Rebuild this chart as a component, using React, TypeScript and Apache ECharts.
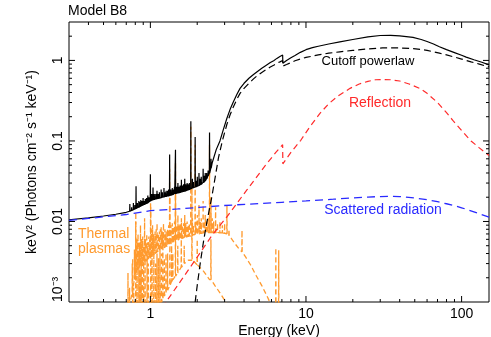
import React, { useEffect, useRef } from 'react';
import * as echarts from 'echarts';

const FONT = '"Liberation Sans", Arial, Helvetica, sans-serif';

// Axis ranges and tick labels
const X_MIN = 0.3;
const X_MAX = 150;
const Y_MIN = 0.001;
const Y_MAX = 3;
const xLabelValues = [1, 10, 100];
const xLabelTexts = ['1', '10', '100'];
const yLabelValues = [0.001, 0.01, 0.1, 1];
const yLabelTexts = ['10⁻³', '0.01', '0.1', '1'];

// Points: [energy keV, keV^2 photons cm^-2 s^-1 keV^-1]
// Lines: [energy keV, continuum level, line peak]
const totalContinuum: number[][] = [
  [0.3, 0.0105], [0.4, 0.0111], [0.5, 0.0117], [0.6, 0.0123], [0.7, 0.013],
  [2.5, 0.054], [2.65, 0.078], [2.8, 0.1], [2.95, 0.14], [3.1, 0.19], [3.25, 0.245], [3.4, 0.3],
  [3.6, 0.38], [3.77, 0.45], [4.0, 0.52], [4.3, 0.6], [4.6, 0.67], [4.83, 0.72], [5.2, 0.8],
  [5.5, 0.86], [5.9, 0.94], [6.2, 0.99], [6.5, 1.06], [6.8, 1.12], [7.08, 1.17], [7.1, 0.92],
  [7.5, 1.0], [8, 1.08], [8.5, 1.15], [9.2, 1.26], [10, 1.36], [11, 1.44], [12, 1.5], [14, 1.6],
  [16.5, 1.7], [20, 1.82], [25, 1.96], [30, 2.04], [35, 2.05], [40, 2.02], [48.7, 1.93],
  [55, 1.82], [60, 1.72], [66, 1.6], [72, 1.48], [80, 1.36], [90, 1.25], [100, 1.16],
  [107, 1.1], [120, 1.02], [135, 0.95], [150, 0.88],
];
const totalLines: number[][] = [
  [0.738, 0.0134, 0.0165], [0.758, 0.0137, 0.015], [0.778, 0.014, 0.017], [0.795, 0.0143, 0.016],
  [0.809, 0.0145, 0.0273], [0.825, 0.0148, 0.017], [0.843, 0.015, 0.018], [0.855, 0.0153, 0.0175],
  [0.868, 0.0155, 0.0185], [0.883, 0.0158, 0.018], [0.898, 0.016, 0.0195], [0.912, 0.0162, 0.018],
  [0.928, 0.0165, 0.019], [0.945, 0.0168, 0.0195], [0.963, 0.017, 0.021], [0.98, 0.0175, 0.02],
  [1.0, 0.018, 0.0385], [1.02, 0.0183, 0.022], [1.04, 0.0186, 0.0265], [1.06, 0.0188, 0.022],
  [1.083, 0.019, 0.022], [1.103, 0.0192, 0.024], [1.123, 0.0194, 0.022], [1.143, 0.0195, 0.023],
  [1.173, 0.0198, 0.025], [1.195, 0.02, 0.023], [1.223, 0.0202, 0.026], [1.243, 0.0204, 0.023],
  [1.263, 0.0205, 0.024], [1.29, 0.0207, 0.024], [1.31, 0.0208, 0.025], [1.33, 0.021, 0.068],
  [1.355, 0.0212, 0.025], [1.383, 0.0215, 0.026], [1.41, 0.0217, 0.025], [1.43, 0.0219, 0.027],
  [1.45, 0.022, 0.078], [1.475, 0.0224, 0.027], [1.503, 0.0226, 0.03], [1.53, 0.0228, 0.027],
  [1.553, 0.023, 0.028], [1.583, 0.0233, 0.033], [1.61, 0.0235, 0.028], [1.635, 0.0237, 0.029],
  [1.663, 0.0238, 0.034], [1.69, 0.024, 0.029], [1.723, 0.0244, 0.03], [1.75, 0.0247, 0.029],
  [1.78, 0.025, 0.03], [1.82, 0.0255, 0.176], [1.863, 0.026, 0.034], [1.89, 0.0263, 0.031],
  [1.94, 0.0268, 0.112], [1.97, 0.027, 0.032], [2.003, 0.0275, 0.036], [2.053, 0.028, 0.04],
  [2.09, 0.0287, 0.034], [2.123, 0.029, 0.036], [2.183, 0.0305, 0.045], [2.22, 0.031, 0.037],
  [2.253, 0.032, 0.04], [2.3, 0.034, 0.04], [2.35, 0.037, 0.043], [2.4, 0.04, 0.127],
  [2.453, 0.046, 0.06],
];

const cutoffPowerlaw: number[][] = [
  [1.94, 0.001], [2.0, 0.0016], [2.09, 0.003], [2.2, 0.0058], [2.3, 0.0095], [2.4, 0.0145],
  [2.48, 0.02], [2.6, 0.034], [2.74, 0.062], [2.9, 0.1], [3.1, 0.16], [3.25, 0.21], [3.4, 0.26],
  [3.6, 0.33], [3.77, 0.39], [4.0, 0.45], [4.3, 0.52], [4.6, 0.59], [4.83, 0.64], [5.2, 0.71],
  [5.5, 0.76], [5.9, 0.83], [6.2, 0.87], [6.5, 0.92], [6.8, 0.96], [7.08, 1.0], [7.1, 0.85],
  [7.5, 0.89], [8, 0.94], [8.5, 0.99], [9.2, 1.04], [10, 1.09], [11, 1.13], [12, 1.17],
  [14, 1.23], [16.5, 1.28], [20, 1.33], [25, 1.39], [31, 1.43], [40, 1.43], [49, 1.4],
  [55, 1.37], [60, 1.33], [66, 1.28], [72, 1.23], [80, 1.17], [90, 1.1], [100, 1.04],
  [115, 0.96], [130, 0.9], [150, 0.83],
];

const reflection: number[][] = [
  [1.2, 0.00085], [1.26, 0.001], [1.56, 0.0018], [2.0, 0.0036], [2.5, 0.0068], [3.1, 0.0114],
  [4.16, 0.0245], [5.5, 0.05], [6.4, 0.072], [7.08, 0.09], [7.1, 0.052], [8.0, 0.072],
  [9.26, 0.102], [10.6, 0.15], [12.3, 0.22], [14, 0.29], [16, 0.36], [19.2, 0.45], [22, 0.51],
  [25, 0.55], [28, 0.575], [31, 0.58], [35, 0.575], [40, 0.555], [46, 0.51], [53.8, 0.45],
  [60, 0.39], [70, 0.3], [80, 0.225], [87.8, 0.18], [100, 0.135], [115, 0.1], [130, 0.082],
  [150, 0.066],
];

const scattered: number[][] = [
  [0.3, 0.0103], [0.4, 0.0109], [0.5, 0.0114], [0.7, 0.0122], [1, 0.0136], [1.5, 0.0143],
  [2, 0.0149], [3, 0.0158], [5, 0.0167], [7, 0.0173], [10, 0.018], [15, 0.0189], [20, 0.0196],
  [25, 0.0201], [30, 0.0204], [35, 0.0205], [40, 0.0204], [50, 0.0196], [60, 0.0186],
  [70, 0.0176], [80, 0.0166], [90, 0.0157], [100, 0.0148], [120, 0.0132], [150, 0.0113],
];

const hotContinuum: number[][] = [
  [0.62, 0.0006], [0.7, 0.0009], [0.75, 0.0011], [3.3, 0.0062], [3.5, 0.0053], [3.7, 0.0046],
  [4.1, 0.0036], [4.4, 0.0029], [4.8, 0.0021], [5.2, 0.0016], [5.6, 0.0012], [6.0, 0.0009],
  [7.5, 0.0004],
];
const hotLines: number[][] = [
  [0.765, 0.0013, 0.003], [0.79, 0.0019, 0.0045], [0.806, 0.0023, 0.013], [0.82, 0.0025, 0.006],
  [0.833, 0.0026, 0.007], [0.85, 0.0027, 0.0055], [0.864, 0.0028, 0.009], [0.878, 0.0029, 0.006],
  [0.893, 0.003, 0.0065], [0.905, 0.0031, 0.005], [0.918, 0.0032, 0.011], [0.932, 0.0032, 0.006],
  [0.948, 0.0033, 0.007], [0.962, 0.0034, 0.0055], [0.978, 0.0035, 0.0065], [0.99, 0.0035, 0.006],
  [1.003, 0.0036, 0.022], [1.018, 0.0037, 0.008], [1.033, 0.0038, 0.009], [1.05, 0.0039, 0.007],
  [1.073, 0.004, 0.0075], [1.09, 0.0041, 0.008], [1.104, 0.0042, 0.0095], [1.125, 0.0043, 0.007],
  [1.143, 0.0044, 0.0075], [1.16, 0.0045, 0.008], [1.173, 0.0046, 0.0085], [1.195, 0.0046, 0.0075],
  [1.214, 0.0047, 0.0095], [1.24, 0.0048, 0.008], [1.263, 0.0049, 0.0075], [1.29, 0.005, 0.008],
  [1.31, 0.0051, 0.009], [1.33, 0.0052, 0.045], [1.355, 0.0053, 0.009], [1.383, 0.0054, 0.0095],
  [1.41, 0.0055, 0.0085], [1.43, 0.0056, 0.01], [1.45, 0.0057, 0.055], [1.475, 0.0058, 0.009],
  [1.503, 0.0059, 0.012], [1.53, 0.006, 0.009], [1.553, 0.006, 0.0095], [1.583, 0.0061, 0.011],
  [1.61, 0.0062, 0.009], [1.635, 0.0063, 0.0095], [1.663, 0.0064, 0.012], [1.69, 0.0064, 0.0095],
  [1.723, 0.0065, 0.01], [1.75, 0.0065, 0.009], [1.78, 0.0066, 0.0095], [1.82, 0.0066, 0.15],
  [1.863, 0.0067, 0.011], [1.89, 0.0068, 0.009], [1.94, 0.0069, 0.09], [1.97, 0.0069, 0.01],
  [2.003, 0.007, 0.012], [2.053, 0.007, 0.016], [2.09, 0.0071, 0.01], [2.123, 0.0071, 0.011],
  [2.183, 0.0072, 0.018], [2.22, 0.0072, 0.01], [2.253, 0.0072, 0.012], [2.3, 0.0073, 0.01],
  [2.35, 0.0073, 0.011], [2.4, 0.0073, 0.09], [2.453, 0.0073, 0.02], [2.5, 0.0073, 0.011],
  [2.55, 0.0073, 0.01], [2.625, 0.0073, 0.015], [2.7, 0.0073, 0.0095], [2.8, 0.0072, 0.01],
  [2.9, 0.0072, 0.009], [3.0, 0.0071, 0.0095], [3.105, 0.007, 0.016], [3.2, 0.0066, 0.008],
  [3.88, 0.0042, 0.0078], [6.4, 0.0007, 0.0047], [6.68, 0.0006, 0.0044],
];

const coolContinuum: number[][] = [
  [0.68, 0.0003], [0.7, 0.00035], [1.75, 0.0033], [1.8, 0.0033], [1.9, 0.0032], [2.2, 0.0024],
  [2.4, 0.0019], [2.6, 0.0016], [2.8, 0.0013], [3.0, 0.00105], [3.1, 0.0009], [3.3, 0.0007],
];
const coolLines: number[][] = [
  [0.718, 0.0004, 0.0023], [0.735, 0.0004, 0.0015], [0.77, 0.0005, 0.0035], [0.782, 0.0005, 0.0015],
  [0.805, 0.0005, 0.01], [0.822, 0.0005, 0.003], [0.843, 0.0005, 0.004], [0.858, 0.0006, 0.0025],
  [0.873, 0.0006, 0.006], [0.89, 0.0006, 0.003], [0.905, 0.0006, 0.004], [0.925, 0.0006, 0.0035],
  [0.953, 0.0006, 0.005], [0.97, 0.0007, 0.003], [1.005, 0.0007, 0.015], [1.025, 0.0008, 0.004],
  [1.053, 0.0008, 0.006], [1.08, 0.0008, 0.003], [1.103, 0.0009, 0.004], [1.128, 0.0009, 0.0035],
  [1.153, 0.001, 0.005], [1.18, 0.001, 0.004], [1.203, 0.0011, 0.006], [1.23, 0.0012, 0.0035],
  [1.26, 0.0013, 0.004], [1.29, 0.0014, 0.004], [1.335, 0.0016, 0.02], [1.37, 0.0018, 0.005],
  [1.395, 0.0019, 0.004], [1.45, 0.0021, 0.025], [1.5, 0.0023, 0.005], [1.58, 0.0027, 0.006],
  [1.65, 0.003, 0.005], [1.85, 0.0033, 0.03], [2.0, 0.0029, 0.006], [2.45, 0.0019, 0.006],
];

// Build a line-series table: continuum points plus a narrow profile per emission line
function withLines(cont: number[][], lines: number[][]): number[][] {
  const w = 0.0025;
  const pts = cont.map((p) => [p[0], p[1]]);
  lines.forEach(([e, b, p]) => {
    pts.push([e * (1 - w), b], [e, p], [e * (1 + w), b]);
  });
  return pts.sort((a, b) => a[0] - b[0]);
}

function logTicks(min: number, max: number): number[][] {
  const out: number[][] = [];
  for (let p = -4; p <= 3; p++) {
    for (let m = 1; m <= 9; m++) {
      const v = m * Math.pow(10, p);
      if (v > min * 1.0001 && v < max * 0.9999) out.push([v, m === 1 ? 1 : 0]);
    }
  }
  return out;
}

function labelFor(values: number[], texts: string[], v: number): string {
  for (let i = 0; i < values.length; i++) {
    if (Math.abs(values[i] - v) / values[i] < 1e-6) return texts[i];
  }
  return '';
}

export default function App() {
  const ref = useRef<HTMLDivElement>(null);

  useEffect(() => {
    if (!ref.current) return;
    const chart = echarts.init(ref.current, undefined, { renderer: 'svg' });
    const xTicks = logTicks(X_MIN, X_MAX).map(([v, maj]) => [v, 1, maj]);
    const yTicks = logTicks(Y_MIN, Y_MAX).map(([v, maj]) => [1, v, maj]);
    const tickStyle = { stroke: '#000', lineWidth: 1 };

    const lineSeries = (name: string, data: number[][], color: string, type: any, width: number, z: number) => ({
      type: 'line',
      name,
      data,
      showSymbol: false,
      symbol: 'none',
      clip: true,
      z,
      lineStyle: { color, width, type },
      emphasis: { disabled: true },
    });

    chart.setOption({
      animation: false,
      title: {
        text: 'Model B8',
        left: 68,
        top: 3,
        padding: 0,
        textStyle: { fontSize: 14, fontWeight: 'normal', fontFamily: FONT, color: '#000' },
      },
      grid: {
        left: 69,
        top: 22,
        right: 2,
        bottom: 35,
        show: true,
        borderColor: '#000',
        borderWidth: 1,
        backgroundColor: 'transparent',
        containLabel: false,
        outerBoundsMode: 'none',
      },
      xAxis: {
        type: 'log',
        logBase: 10,
        min: X_MIN,
        max: X_MAX,
        axisLine: { show: false },
        axisTick: { show: false },
        splitLine: { show: false },
        axisLabel: {
          margin: 4,
          fontSize: 14,
          fontFamily: FONT,
          color: '#000',
          formatter: (v: number) => labelFor(xLabelValues, xLabelTexts, v),
        },
        name: 'Energy (keV)',
        nameLocation: 'middle',
        nameGap: 21,
        nameMoveOverlap: false,
        nameTextStyle: { fontSize: 14, fontFamily: FONT, color: '#000', lineHeight: 14 },
      },
      yAxis: {
        type: 'log',
        logBase: 10,
        min: Y_MIN,
        max: Y_MAX,
        axisLine: { show: false },
        axisTick: { show: false },
        splitLine: { show: false },
        axisLabel: {
          rotate: 90,
          margin: 5,
          fontSize: 14,
          fontFamily: FONT,
          color: '#000',
          alignMinLabel: 'left',
          formatter: (v: number) => labelFor(yLabelValues, yLabelTexts, v),
        },
        name: 'keV² (Photons cm⁻² s⁻¹ keV⁻¹)',
        nameLocation: 'middle',
        nameGap: 31,
        nameMoveOverlap: false,
        nameTextStyle: { fontSize: 14, fontFamily: FONT, color: '#000', lineHeight: 14 },
      },
      series: [
        lineSeries('Thermal plasma (cool)', withLines(coolContinuum, coolLines), '#ff9a2e', [5, 3], 1.3, 1),
        lineSeries('Thermal plasma (hot)', withLines(hotContinuum, hotLines), '#ff9a2e', [5, 3], 1.3, 1),
        lineSeries('Reflection', reflection, '#ff2a2a', [6, 4], 1.2, 2),
        lineSeries('Cutoff powerlaw', cutoffPowerlaw, '#000000', [7, 4], 1.2, 3),
        lineSeries('Total', withLines(totalContinuum, totalLines), '#000000', 'solid', 1.2, 4),
        lineSeries('Scattered radiation', scattered, '#2a2aff', [8, 5], 1.3, 5),
        {
          type: 'custom',
          name: 'xticks',
          data: xTicks,
          encode: { x: 0, y: 1 },
          silent: true,
          clip: false,
          z: 10,
          renderItem: (params: any, api: any) => {
            const cs = params.coordSys;
            const v = api.value(0);
            const maj = api.value(2);
            const px = api.coord([v, 1])[0];
            const len = maj ? 6 : 3;
            const bottom = cs.y + cs.height;
            return {
              type: 'group',
              children: [
                { type: 'line', shape: { x1: px, y1: bottom, x2: px, y2: bottom - len }, style: tickStyle },
                { type: 'line', shape: { x1: px, y1: cs.y, x2: px, y2: cs.y + len }, style: tickStyle },
              ],
            };
          },
        },
        {
          type: 'custom',
          name: 'yticks',
          data: yTicks,
          encode: { x: 0, y: 1 },
          silent: true,
          clip: false,
          z: 10,
          renderItem: (params: any, api: any) => {
            const cs = params.coordSys;
            const v = api.value(1);
            const maj = api.value(2);
            const py = api.coord([1, v])[1];
            const len = maj ? 6 : 3;
            const right = cs.x + cs.width;
            return {
              type: 'group',
              children: [
                { type: 'line', shape: { x1: cs.x, y1: py, x2: cs.x + len, y2: py }, style: tickStyle },
                { type: 'line', shape: { x1: right, y1: py, x2: right - len, y2: py }, style: tickStyle },
              ],
            };
          },
        },
      ],
      graphic: [
        {
          type: 'text', x: 368, y: 60, z: 20,
          style: { text: 'Cutoff powerlaw', fill: '#000', font: `13px ${FONT}`, align: 'center', verticalAlign: 'middle' },
        },
        {
          type: 'text', x: 380, y: 102, z: 20,
          style: { text: 'Reflection', fill: '#ff2a2a', font: `14px ${FONT}`, align: 'center', verticalAlign: 'middle' },
        },
        {
          type: 'text', x: 383, y: 209, z: 20,
          style: { text: 'Scattered radiation', fill: '#2a2aff', font: `14px ${FONT}`, align: 'center', verticalAlign: 'middle' },
        },
        {
          type: 'text', x: 78, y: 225, z: 20,
          style: { text: 'Thermal\nplasmas', fill: '#ff9a2e', font: `14px ${FONT}`, lineHeight: 15, align: 'left', verticalAlign: 'top' },
        },
      ],
    });
    return () => chart.dispose();
  }, []);

  return <div ref={ref} style={{ position: 'fixed', left: 0, top: 0, width: 491, height: 337 }} />;
}
